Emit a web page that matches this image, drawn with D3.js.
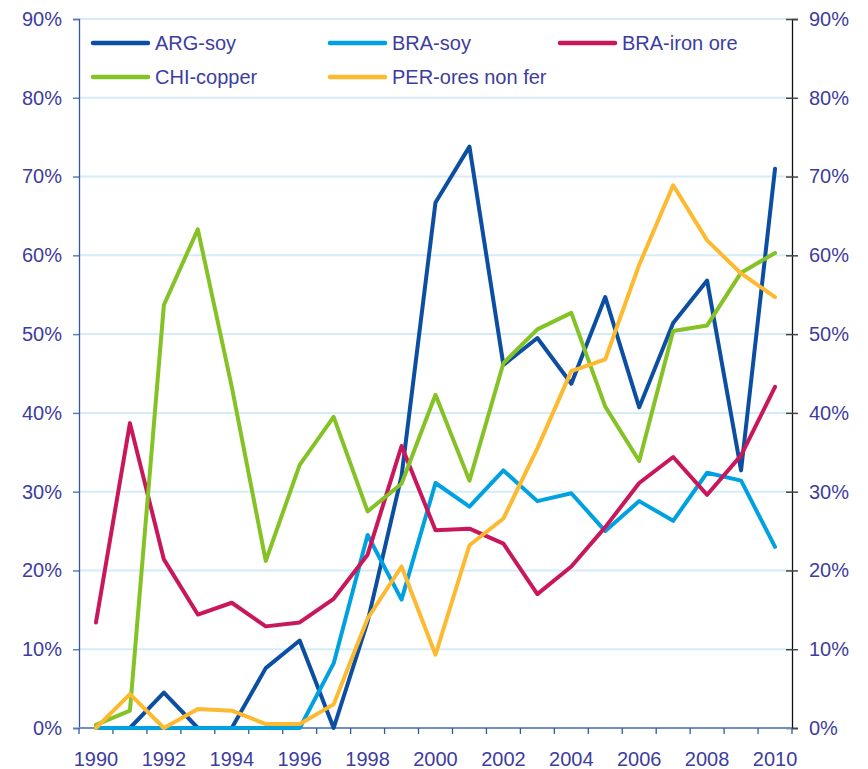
<!DOCTYPE html>
<html>
<head>
<meta charset="utf-8">
<script src="https://cdn.jsdelivr.net/npm/d3@7"></script>
<style>
  html, body { margin: 0; padding: 0; background: #fff; }
  svg text { font-family: "Liberation Sans", Arial, sans-serif; fill: #3d3d9e; }
</style>
</head>
<body>
<div id="chart"></div>
<script>
// ── Datos ────────────────────────────────────────────────────────────────
const years = d3.range(1990, 2011);
const yearLabels = years.filter(y => y % 2 === 0);
const yTicks = [0, 10, 20, 30, 40, 50, 60, 70, 80, 90];

const seriesNames = ["ARG-soy", "BRA-soy", "BRA-iron ore", "CHI-copper", "PER-ores non fer"];
const seriesColors = ["#0b4ea2", "#00a1e1", "#c9175c", "#84c226", "#fdb92f"];

const argSoy = [0, 0, 4.5, 0, 0, 7.6, 11.1, 0, 13.5, 32, 66.7, 73.8, 46.1, 49.5, 43.7, 54.7, 40.7, 51.4, 56.8, 32.7, 71];
const braSoy = [0, 0, 0, 0, 0, 0, 0, 8.2, 24.5, 16.3, 31.1, 28.1, 32.7, 28.8, 29.8, 25, 28.8, 26.3, 32.4, 31.4, 23];
const braIron = [13.4, 38.7, 21.4, 14.4, 15.9, 12.9, 13.4, 16.4, 22, 35.8, 25.1, 25.3, 23.4, 17, 20.5, 25.5, 31.1, 34.4, 29.6, 34.6, 43.3];
const chiCopper = [0.4, 2.2, 53.7, 63.3, 43.3, 21.2, 33.4, 39.5, 27.5, 31, 42.3, 31.4, 46.3, 50.6, 52.7, 40.8, 33.9, 50.4, 51.1, 57.8, 60.3];
const perOres = [0, 4.3, 0, 2.4, 2.2, 0.5, 0.5, 3, 13.9, 20.5, 9.3, 23.2, 26.6, 35.5, 45.3, 46.8, 58.8, 68.9, 61.9, 57.7, 54.7];

const seriesValues = [argSoy, braSoy, braIron, chiCopper, perOres];

// ── Lienzo ───────────────────────────────────────────────────────────────
const width = 868;
const height = 769;
const margin = { top: 19, right: 76, bottom: 41, left: 79 };

const svg = d3.select("#chart")
  .append("svg")
  .attr("width", width)
  .attr("height", height);

const x = d3.scaleBand()
  .domain(years)
  .range([margin.left, width - margin.right]);

const y = d3.scaleLinear()
  .domain([0, 90])
  .range([height - margin.bottom, margin.top]);

// ── Rejilla ──────────────────────────────────────────────────────────────
svg.append("g")
  .selectAll("line")
  .data(yTicks.filter(d => d > 0))
  .join("line")
  .attr("x1", margin.left)
  .attr("x2", width - margin.right)
  .attr("y1", d => y(d))
  .attr("y2", d => y(d))
  .attr("stroke", "#d4ecf8")
  .attr("stroke-width", 2);

// ── Eje izquierdo ────────────────────────────────────────────────────────
const gLeft = svg.append("g")
  .attr("transform", `translate(${margin.left},0)`)
  .call(d3.axisLeft(y).tickValues(yTicks).tickSize(6).tickPadding(11).tickFormat(d => d + "%"));
gLeft.select(".domain").attr("stroke", "#2b5ba8").attr("stroke-width", 1.3);
gLeft.selectAll(".tick line").attr("stroke", "#5d7fb8").attr("stroke-width", 1.5);
gLeft.selectAll(".tick text").attr("font-size", 20).attr("fill", "#3d3d9e");

// ── Eje derecho ──────────────────────────────────────────────────────────
const gRight = svg.append("g")
  .attr("transform", `translate(${width - margin.right},0)`)
  .call(d3.axisRight(y).tickValues(yTicks).tickSize(6).tickPadding(11).tickFormat(d => d + "%"));
gRight.select(".domain").attr("stroke", "#111").attr("stroke-width", 1.3);
gRight.selectAll(".tick line")
  .attr("x1", -6)
  .attr("stroke", "#444")
  .attr("stroke-width", 1.5);
gRight.selectAll(".tick text").attr("font-size", 20).attr("fill", "#3d3d9e");

// ── Eje inferior ─────────────────────────────────────────────────────────
const gBottom = svg.append("g")
  .attr("transform", `translate(0,${height - margin.bottom})`);

gBottom.append("line")
  .attr("x1", margin.left)
  .attr("x2", width - margin.right)
  .attr("stroke", "#6f8ec2")
  .attr("stroke-width", 2);

gBottom.selectAll("line.tick")
  .data([...years.map(d => x(d)), x(years[years.length - 1]) + x.bandwidth()])
  .join("line")
  .attr("class", "tick")
  .attr("x1", d => d)
  .attr("x2", d => d)
  .attr("y1", 0)
  .attr("y2", 6)
  .attr("stroke", "#2b5ba8")
  .attr("stroke-width", 1.3);

gBottom.selectAll("text")
  .data(yearLabels)
  .join("text")
  .attr("x", d => x(d) + x.bandwidth() / 2)
  .attr("y", 38)
  .attr("text-anchor", "middle")
  .attr("font-size", 20)
  .text(d => d);

// ── Líneas ───────────────────────────────────────────────────────────────
const line = d3.line()
  .x((d, i) => x(years[i]) + x.bandwidth() / 2)
  .y(d => y(d));

svg.append("g")
  .selectAll("path")
  .data(seriesValues)
  .join("path")
  .attr("d", line)
  .attr("fill", "none")
  .attr("stroke", (d, i) => seriesColors[i])
  .attr("stroke-width", 4)
  .attr("stroke-linejoin", "round")
  .attr("stroke-linecap", "round");

// ── Leyenda ──────────────────────────────────────────────────────────────
const legendX = [93, 330, 560];
const legendY = [43, 77];

const legend = svg.append("g")
  .selectAll("g")
  .data(seriesNames)
  .join("g")
  .attr("transform", (d, i) => `translate(${legendX[i % 3]},${legendY[Math.floor(i / 3)]})`);

legend.append("line")
  .attr("x1", 0)
  .attr("x2", 55)
  .attr("stroke", (d, i) => seriesColors[i])
  .attr("stroke-width", 4.5)
  .attr("stroke-linecap", "round");

legend.append("text")
  .attr("x", 62)
  .attr("dy", "0.35em")
  .attr("font-size", 20)
  .text(d => d);
</script>
</body>
</html>
